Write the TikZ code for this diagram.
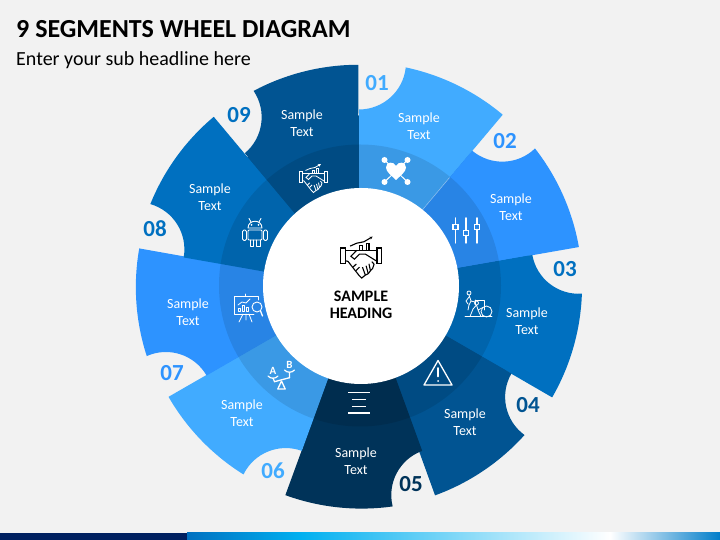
\documentclass[tikz,border=0pt]{standalone}
\usepackage{fontspec}
\setmainfont{Carlito}
\usetikzlibrary{arrows.meta}
\definecolor{pageback}{HTML}{F2F2F2}
\definecolor{blueA}{HTML}{41ABFF}
\definecolor{blueB}{HTML}{2D93FF}
\definecolor{blueC}{HTML}{0070C0}
\definecolor{blueD}{HTML}{015492}
\definecolor{blueE}{HTML}{003359}
\definecolor{navybar}{HTML}{002060}
\definecolor{skybar}{HTML}{00B0F0}
% one wheel piece: nudge, start angle, colour
\newcommand{\wheelseg}[3][]{%
  \fill[#3,#1](0,0)--(#2:176)arc[start angle=#2+180,end angle=#2+264,radius=47]
    arc[start angle=#2-12,end angle=#2-40,radius=223]--cycle;}
\tikzset{
  sampletext/.style={text=white,font=\fontsize{14}{16.7}\selectfont,align=center},
  numtext/.style={font=\fontsize{23}{23}\selectfont\bfseries},
  iconline/.style={draw=white,line width=0.9pt,line join=round,line cap=round},
  iconthick/.style={draw=white,line width=1.5pt,line cap=round},
  shake/.pic={
    \draw(-14,6.2)rectangle(-11,-4.6);
    \draw(11,6.2)rectangle(14,-4.6);
    \draw(-11,4.6)--(11,4.6);
    \draw(-3,4.6)--(-7,0.5)--(-4.5,-1.5)--(-1,2)--(3,2)--(11,-3);
    \draw(-11,-2.6)--(-9,-3)--(-1.5,-12.5)--(0.5,-14.5)--(3,-12.5)--(5,-11.5)--(6.5,-9.5)--(8,-8)--(9,-5)--(7.5,-3.2);
    \draw(-5.5,-7)--(-3.2,-4.8);
    \draw(-3.5,-9.5)--(-1,-7);
    \draw(1,-7)--(3,-12.5);
    \draw(3.5,-6)--(5,-11.5);
    \draw(5.5,-4.7)--(6.5,-9.5);
    \draw(-1,4.6)--(-1,8)--(1,8)--(1,4.6);
    \draw(3.5,4.6)--(3.5,9.5)--(5.5,9.5)--(5.5,4.6);
    \draw[-{Stealth[width=3pt,length=3pt]}](-7.5,7.5)--(-3,9.5)--(2,10.5)--(8,14);
  }
}
\begin{document}
\begin{tikzpicture}[x=1pt,y=1pt]
  \useasboundingbox(0,0)rectangle(720,540);
  \fill[pageback](0,0)rectangle(720,540);
  % bottom bar
  \fill[navybar](0,0)rectangle(187,7);
  \shade[left color=blueC,right color=skybar](187,0)rectangle(300,7);
  \shade[left color=skybar,right color=white](300,0)rectangle(610,7);
  \shade[left color=white,right color=blueC!80!skybar](610,0)rectangle(720,7);
  \node[anchor=west,inner sep=0pt,font=\fontsize{26}{26}\selectfont\bfseries](title)at(16,511){9 SEGMENTS WHEEL DIAGRAM};
  \node[anchor=west,inner sep=0pt,font=\fontsize{20}{20}\selectfont](subtitle)at(16,480){Enter your sub headline here};
  % wheel
  \begin{scope}[shift={(359,254.5)}]
    \fill[blueD](0,0)circle(170);
    \wheelseg{90}{blueA}
    \wheelseg{50}{blueB}
    \wheelseg{10}{blueC}
    \wheelseg{-30}{blueD}
    \wheelseg[shift={(3,0)}]{-70}{blueE}
    \wheelseg[shift={(3,0)}]{-110}{blueA}
    \wheelseg[shift={(0,-2)}]{-150}{blueB}
    \wheelseg[shift={(-2,-2.5)}]{170}{blueC}
    \wheelseg[shift={(-1,-2.5)}]{130}{blueD}
    \fill[black,opacity=0.1](1,0)circle(141);
    \draw[white,opacity=0.5,line width=0.5pt](50:98)--(50:141);
    \fill[white](2,-0.5)circle(98);
  \end{scope}
  % texts
  \node[sampletext](txtA)at(419,413.5){Sample\\Text};
  \node[sampletext](txtB)at(511,332.5){Sample\\Text};
  \node[sampletext](txtC)at(527,218.5){Sample\\Text};
  \node[sampletext](txtD)at(465,117.5){Sample\\Text};
  \node[sampletext](txtE)at(356,79){Sample\\Text};
  \node[sampletext](txtF)at(242,126.5){Sample\\Text};
  \node[sampletext](txtG)at(188,227.5){Sample\\Text};
  \node[sampletext](txtH)at(210,342.5){Sample\\Text};
  \node[sampletext](txtI)at(302,416.5){Sample\\Text};
  \node[numtext,text=blueA](numA)at(377,457){01};
  \node[numtext,text=blueB](numB)at(505,399){02};
  \node[numtext,text=blueC](numC)at(565,271){03};
  \node[numtext,text=blueD](numD)at(528,135){04};
  \node[numtext,text=blueE](numE)at(411,56){05};
  \node[numtext,text=blueA](numF)at(273,69){06};
  \node[numtext,text=blueB](numG)at(172,167){07};
  \node[numtext,text=blueC](numH)at(155,311){08};
  \node[numtext,text=blueC](numI)at(239,425){09};
  \node[align=center,font=\fontsize{16}{17}\selectfont\bfseries](heading)at(361,235.5){SAMPLE\\HEADING};
  % icons
  \pic[line width=1.1pt,scale=1.45]at(361,283){shake};
  \pic[draw=white,white,line width=0.8pt]at(313,362){shake};
  % heart
  \begin{scope}[shift={(396,369)}]
    \draw[iconthick,line width=1pt](-11.5,11)--(11.5,-11)(11.5,11)--(-11.5,-11);
    \fill[white](0,-9)..controls(-4,-5)and(-10,-1)..(-10,3.5)..controls(-10,9.5)and(-2.5,10)..(0,5)
      ..controls(2.5,10)and(10,9.5)..(10,3.5)..controls(10,-1)and(4,-5)..(0,-9);
    \fill[white](-11.5,11)circle(3)(11.5,11)circle(3)(-11.5,-11)circle(3)(11.5,-11)circle(3);
  \end{scope}
  % sliders
  \begin{scope}[shift={(466,309)}]
    \draw[iconthick](-10.5,-12)--(-10.5,1.5)(-10.5,6.5)--(-10.5,13);
    \draw[iconthick](0,-12)--(0,-4.5)(0,0.5)--(0,13);
    \draw[iconthick](11,-12)--(11,1.5)(11,6.5)--(11,13);
    \draw[iconthick,line width=1.3pt](-13,1.5)rectangle(-8,6.5);
    \draw[iconthick,line width=1.3pt](-2.5,-4.5)rectangle(2.5,0.5);
    \draw[iconthick,line width=1.3pt](8.5,1.5)rectangle(13.5,6.5);
  \end{scope}
  % people and load
  \begin{scope}[shift={(478,235)}]
    \draw[iconline,line width=0.8pt](-13,-11.5)--(14,-11.5);
    \draw[iconline,line width=0.8pt](8.5,-6.5)circle(5.5);
    \draw[iconline,line width=0.8pt](-3,5)--(6,5)--(6,-5)(-3,5)--(-3,1);
    \draw[iconline,line width=0.8pt](-9,12)circle(2)(-9,10)--(-7,4)--(-3,3)(-9,8)--(-12,4)--(-10,1)(-7,4)--(-9,0)--(-10,-5)(-1.5,2)circle(2)(-1.5,0)--(0,-5)--(3,-11.5)(-1.5,0)--(-5,-4)--(-8,-11.5)(0,-5)--(4,-3);
  \end{scope}
  % warning
  \draw[iconline,line width=1.3pt](438,179.5)--(452,155)--(424,155)--cycle;
  \draw[iconline,line width=1.6pt](438,172)--(438,163.5);
  \fill[white](438,159)circle(1);
  % centred lines
  \draw[iconthick,line width=1.4pt,line cap=butt](348,147.5)--(370,147.5);
  \draw[iconthick,line width=1.4pt,line cap=butt](352,140.5)--(366,140.5);
  \draw[iconthick,line width=1.4pt,line cap=butt](352,133.5)--(366,133.5);
  \draw[iconthick,line width=1.4pt,line cap=butt](348,127)--(370,127);
  % balance
  \begin{scope}[shift={(281.5,163)}]
    \draw[iconline,line width=1.3pt](-3.7,-12)--(0,-4)--(3.7,-12)--cycle;
    \draw[iconline,line width=1.3pt](-7,-4.7)--(8,-0.7);
    \draw[iconline,line width=1.2pt](-13.5,1)..controls(-11,-2)and(-6,-2)..(-3.5,1);
    \draw[iconline,line width=1.2pt](3,7)..controls(5.5,4)and(10.5,4)..(13,7);
    \draw[iconline,line width=1.2pt](-8.5,-1)--(-7,-4.7)(8,4.8)--(8,-0.7);
    \node[text=white,inner sep=0pt,font=\fontsize{11}{11}\selectfont\bfseries](scaleA)at(-8.5,6){A};
    \node[text=white,inner sep=0pt,font=\fontsize{11}{11}\selectfont\bfseries](scaleB)at(8,12){B};
  \end{scope}
  % easel
  \begin{scope}[shift={(246,233)}]
    \draw[iconline,line width=0.8pt](12,7)--(12,11)--(-12,11)--(-12,-7)--(8,-7);
    \draw[iconline,line width=0.8pt](-1,11)--(-1,13);
    \draw[iconline,line width=0.8pt](-3,-7)--(-7,-15)(3,-7)--(6,-15)(0,-7)--(0,-13);
    \draw[iconline,line width=0.8pt](-8,-4.5)rectangle(-5.5,-1)(-4,-4.5)rectangle(-1.5,2)(0,-4.5)rectangle(2.5,0);
    \draw[iconline,line width=0.8pt](-8,2)--(-4,5)--(0,4)--(4,8);
    \draw[iconline,line width=0.9pt](11,0)circle(5);
    \draw[iconline,line width=1.3pt](14.5,-4)--(16.5,-9);
  \end{scope}
  % robot
  \begin{scope}[shift={(255,307)}]
    \draw[iconline](-7,5)..controls(-7,14)and(7,14)..(7,5)--cycle;
    \draw[iconline,rounded corners=1pt](-7,3)--(7,3)--(7,-7)--(-7,-7)--cycle;
    \draw[iconline](-4,11)--(-6,14.5)(4,11)--(6,14.5);
    \draw[iconline,rounded corners=1.5pt](-12.5,-7.5)rectangle(-8.5,3)(8.5,-7.5)rectangle(12.5,3);
    \draw[iconline](-5,-7)--(-5,-13)--(-1.5,-13)--(-1.5,-7)(1.5,-7)--(1.5,-13)--(5,-13)--(5,-7);
    \fill[white](-3.5,8)circle(1)(3.5,8)circle(1);
  \end{scope}
\end{tikzpicture}
\end{document}
